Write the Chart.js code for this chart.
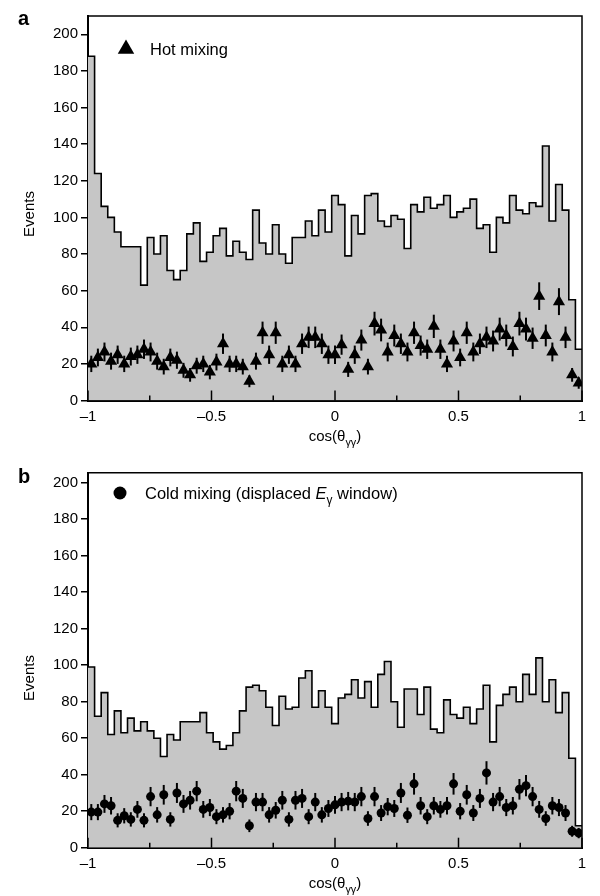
<!DOCTYPE html>
<html>
<head>
<meta charset="utf-8">
<script src="https://cdn.jsdelivr.net/npm/chart.js@4.4.0/dist/chart.umd.min.js"></script>
<style>
  html, body { margin: 0; padding: 0; background: #fff; }
  canvas { position: absolute; left: 0; }
  #chartA { top: 0; }
  #chartB { top: 452px; }
</style>
</head>
<body>
<canvas id="chartA" width="600" height="452"></canvas>
<canvas id="chartB" width="600" height="444"></canvas>
<script>
const FONT = '"Liberation Sans", Arial, Helvetica, sans-serif';

// panel a: all events (histogram) and hot-mixing events (points), 75 bins in cos(theta)
const histAll = [188, 124, 106, 100, 92, 84, 84, 84, 63, 89,
  80, 90, 71, 66, 71, 91, 97, 76, 81, 90,
  94, 79, 87, 81, 77, 104, 86, 80, 96, 80,
  75, 89, 89, 98, 90, 104, 92, 112, 107, 79,
  101, 91, 112, 113, 98, 95, 101, 99, 83, 107,
  103, 111, 105, 107, 112, 100, 103, 105, 110, 94,
  96, 81, 100, 97, 112, 104, 102, 108, 106, 139,
  98, 118, 104, 55, 28];
const hotMixing = [20, 23.5, 26.5, 21.5, 25, 20, 24, 25, 28, 26.5,
  21.5, 18.5, 23.5, 22, 16.5, 14, 19, 20, 15.5, 21,
  31, 20, 20, 18.5, 10.5, 21.5, 37, 25, 37, 20,
  25, 20, 31, 34.5, 34.5, 31, 25, 25, 30.5, 17,
  25, 33, 18.5, 42, 38.5, 26.5, 35.5, 31, 26.5, 37,
  30, 28, 40.5, 28, 20, 32.5, 23.5, 37, 26.5, 31,
  34.5, 32.5, 39, 35.5, 29.5, 42, 39, 34, 57, 35.5,
  26.5, 54, 34.5, 14, 9.5];

// panel b: all events (histogram) and cold-mixing events in the displaced E window
const histCold = [99, 72, 85, 62, 75, 63, 71, 64, 69, 64,
  60, 50, 62, 59, 69, 69, 69, 74, 63, 58,
  54, 56, 63, 75, 88, 89, 86, 77, 67, 83,
  76, 77, 93, 97, 77, 86, 77, 68, 82, 84,
  92, 82, 91, 77, 95, 102, 80, 66, 87, 87,
  73, 88, 65, 63, 81, 73, 71, 77, 68, 76,
  89, 58, 78, 84, 88, 80, 95, 84, 104, 80,
  92, 74, 85, 49, 12];
const coldMixing = [19.5, 19.5, 24, 23, 15, 17.5, 15.5, 21, 15, 28,
  18, 29, 15.5, 30, 24, 26, 31, 21, 22, 17,
  18, 20, 31, 27, 12, 25, 25, 18, 20.5, 26,
  15.5, 26, 27, 17, 25, 18, 21.5, 23.5, 25, 25.5,
  25, 28, 16, 28, 19, 22.5, 21.5, 30, 17.8, 35,
  23, 17, 23, 21, 23, 35, 20, 29, 19, 27,
  41, 25, 28, 22, 23, 32, 34, 28, 21, 16,
  23, 22, 19, 9, 8];

const xMajorTicks = [-1, -0.5, 0, 0.5, 1];
const xMinorTicks = [-0.75, -0.25, 0.25, 0.75];
const yTicks = [0, 20, 40, 60, 80, 100, 120, 140, 160, 180, 200];

// step outline: one point on each left bin edge, plus the closing edge at +1
function histogramPoints(counts) {
  const n = counts.length;
  const pts = counts.map((c, i) => ({ x: -1 + 2 * i / n, y: c }));
  pts.push({ x: 1, y: counts[n - 1] });
  return pts;
}

function binCentres(counts) {
  const n = counts.length;
  return counts.map((c, i) => ({ x: -1 + 2 * (i + 0.5) / n, y: c }));
}

// draws a run of text pieces, some italic or lowered as subscripts
function drawRich(ctx, parts, x, y, size, align) {
  const fontFor = p => (p.italic ? 'italic ' : '') + (p.sub ? size * 0.72 : size) + 'px ' + FONT;
  let total = 0;
  parts.forEach(p => { ctx.font = fontFor(p); total += ctx.measureText(p.text).width; });
  let cx = align === 'center' ? x - total / 2 : x;
  ctx.textAlign = 'left';
  ctx.textBaseline = 'alphabetic';
  parts.forEach(p => {
    ctx.font = fontFor(p);
    ctx.fillText(p.text, cx, p.sub ? y + size * 0.3 : y);
    cx += ctx.measureText(p.text).width;
  });
}

const decorations = {
  id: 'decorations',
  afterDatasetsDraw(chart, args, opts) {
    const { ctx, chartArea: a, scales: { x, y } } = chart;
    ctx.save();
    ctx.strokeStyle = '#000';
    ctx.fillStyle = '#000';

    // Poisson error bars on the points
    const meta = chart.getDatasetMeta(0);
    const ds = chart.data.datasets[0];
    ctx.lineWidth = 2;
    meta.data.forEach((pt, i) => {
      const v = ds.data[i].y;
      const e = Math.sqrt(v);
      ctx.beginPath();
      ctx.moveTo(pt.x, y.getPixelForValue(v - e));
      ctx.lineTo(pt.x, y.getPixelForValue(v + e));
      ctx.stroke();
    });

    // top and right sides of the frame
    ctx.lineWidth = 1.5;
    ctx.beginPath();
    ctx.moveTo(a.left, a.top);
    ctx.lineTo(a.right, a.top);
    ctx.lineTo(a.right, a.bottom);
    ctx.stroke();

    // inward ticks on the x axis
    xMajorTicks.concat(xMinorTicks).forEach(v => {
      const px = x.getPixelForValue(v);
      const len = xMajorTicks.includes(v) ? 10 : 5;
      ctx.beginPath();
      ctx.moveTo(px, a.bottom);
      ctx.lineTo(px, a.bottom - len);
      ctx.stroke();
    });

    // panel letter
    ctx.font = 'bold 20px ' + FONT;
    ctx.textAlign = 'left';
    ctx.textBaseline = 'alphabetic';
    ctx.fillText(opts.letter, opts.letterX, opts.letterY);

    // legend key and text
    const lx = opts.keyX, ly = opts.keyY;
    ctx.beginPath();
    if (opts.key === 'triangle') {
      const r = 9.5;
      ctx.moveTo(lx, ly - r);
      ctx.lineTo(lx + r * 0.866, ly + r * 0.5);
      ctx.lineTo(lx - r * 0.866, ly + r * 0.5);
      ctx.closePath();
    } else {
      ctx.arc(lx, ly, 6.5, 0, Math.PI * 2);
    }
    ctx.fill();
    drawRich(ctx, opts.legend, opts.legendX, opts.legendY, 16.5, 'left');

    // y axis title
    ctx.save();
    ctx.translate(30, opts.eventsY);
    ctx.rotate(-Math.PI / 2);
    ctx.font = '15px ' + FONT;
    ctx.textAlign = 'center';
    ctx.textBaseline = 'middle';
    ctx.fillText('Events', 0, 0);
    ctx.restore();

    // x axis title with subscript
    drawRich(ctx, [{ text: 'cos(θ' }, { text: 'γγ', sub: true }, { text: ')' }],
      (a.left + a.right) / 2, opts.titleY, 15, 'center');
    ctx.restore();
  }
};

function makeChart(id, counts, points, marker, radius, yMax, plotTop, plotBottom, extra) {
  const canvas = document.getElementById(id);
  const H = canvas.height;
  return new Chart(canvas, {
    type: 'scatter',
    data: {
      datasets: [{
        data: binCentres(points),
        pointStyle: marker,
        radius: radius,
        backgroundColor: '#000',
        borderColor: '#000',
        borderWidth: 0,
        showLine: false
      }, {
        data: histogramPoints(counts),
        showLine: true,
        stepped: 'before',
        fill: 'origin',
        backgroundColor: '#c6c6c6',
        borderColor: '#000',
        borderWidth: 1.6,
        pointRadius: 0
      }]
    },
    options: {
      responsive: false,
      animation: false,
      events: [],
      layout: { padding: { top: plotTop, right: 18, left: 0, bottom: 0 } },
      plugins: {
        legend: { display: false },
        tooltip: { enabled: false },
        decorations: extra
      },
      scales: {
        x: {
          type: 'linear',
          min: -1,
          max: 1,
          afterBuildTicks: s => { s.ticks = xMajorTicks.map(v => ({ value: v })); },
          afterFit: s => { s.height = H - plotBottom; },
          ticks: {
            color: '#000',
            font: { family: FONT, size: 15 },
            padding: 7,
            maxRotation: 0,
            autoSkip: false,
            callback: v => (v < 0 ? '–' + Math.abs(v) : String(v))
          },
          grid: { display: false, drawTicks: false },
          border: { color: '#000', width: 2 }
        },
        y: {
          min: 0,
          max: yMax,
          afterBuildTicks: s => { s.ticks = yTicks.map(v => ({ value: v })); },
          afterFit: s => { s.width = 88; },
          ticks: { color: '#000', font: { family: FONT, size: 15 }, padding: 3 },
          grid: { drawOnChartArea: false, drawTicks: true, tickLength: 7, color: '#000', lineWidth: 1.5 },
          border: { color: '#000', width: 2 }
        }
      }
    },
    plugins: [decorations]
  });
}

makeChart('chartA', histAll, hotMixing, 'triangle', 7, 210, 16, 400.5, {
  letter: 'a', letterX: 18, letterY: 25,
  key: 'triangle', keyX: 126, keyY: 49,
  legend: [{ text: 'Hot mixing' }], legendX: 150, legendY: 55,
  eventsY: 214,
  titleY: 441
});

makeChart('chartB', histCold, coldMixing, 'circle', 4.5, 205.5, 20.7, 395.7, {
  letter: 'b', letterX: 18, letterY: 31,
  key: 'circle', keyX: 120, keyY: 41,
  legend: [{ text: 'Cold mixing (displaced ' }, { text: 'E', italic: true }, { text: 'γ', sub: true }, { text: ' window)' }],
  legendX: 145, legendY: 47,
  eventsY: 226,
  titleY: 436
});
</script>
</body>
</html>
